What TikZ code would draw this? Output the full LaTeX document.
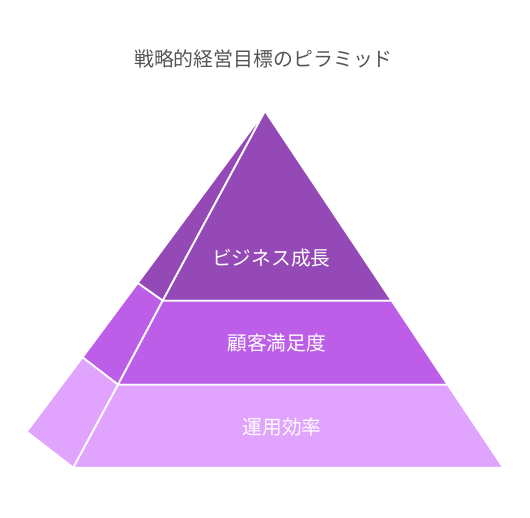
\documentclass[tikz,border=0pt]{standalone}
\usepackage{fontspec}
\newfontfamily\jpfont{Noto Sans CJK JP}
\usetikzlibrary{positioning}
\definecolor{tierTop}{HTML}{9549B7}
\definecolor{tierMid}{HTML}{BC5EE8}
\definecolor{tierLow}{HTML}{E0A3FE}
\definecolor{titleGray}{HTML}{555555}
\tikzset{
  face/.style={draw=white,line width=1.8pt,line join=round},
  tierlabel/.style={font=\jpfont\fontsize{19.7}{22}\selectfont,text=white,anchor=center,inner sep=0pt},
}

\begin{document}
\begin{tikzpicture}[x=1pt,y=-1pt]
\useasboundingbox (0,0) rectangle (530,518);
\node[font=\jpfont\fontsize{19.9}{22}\selectfont,text=titleGray,anchor=center] (title) at (263.5,58.5) {戦略的経営目標のピラミッド};

% side face
\draw[face,fill=tierTop] (265,111) -- (137.7,283) -- (162.7,300.7) -- cycle;
\draw[face,fill=tierMid] (137.7,283) -- (82.5,357.3) -- (118,384.7) -- (162.7,300.7) -- cycle;
\draw[face,fill=tierLow] (82.5,357.3) -- (26.7,431.7) -- (73.3,467.7) -- (118,384.7) -- cycle;

% front face
\draw[face,fill=tierTop] (265,111) -- (162.7,300.7) -- (391.7,300.7) -- cycle;
\draw[face,fill=tierMid] (162.7,300.7) -- (118,384.7) -- (447.7,384.7) -- (391.7,300.7) -- cycle;
\draw[face,fill=tierLow] (118,384.7) -- (73.3,467.7) -- (503.3,467.7) -- (447.7,384.7) -- cycle;

\node[tierlabel] (growth) at (271.3,258) {ビジネス成長};
\node[tierlabel] (customer) at (276.7,343) {顧客満足度};
\node[tierlabel] (efficiency) at (282,427) {運用効率};
\end{tikzpicture}
\end{document}
